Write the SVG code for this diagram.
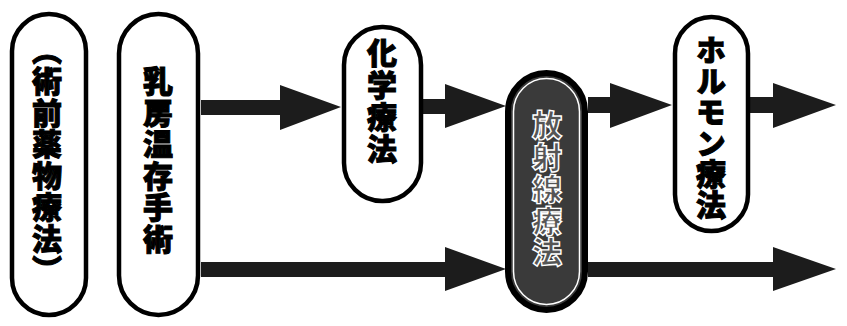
<svg xmlns="http://www.w3.org/2000/svg" width="847" height="326" viewBox="0 0 847 326">
<style>
.box{fill:#fff;stroke:#000;stroke-width:4.5}
.dark{fill:#3a3a3a;stroke:#000;stroke-width:6}
.inner{fill:none;stroke:#fff;stroke-width:1.5}
.t{font-family:"Noto Sans CJK JP","Noto Sans CJK SC",sans-serif;font-weight:900;font-size:30px;writing-mode:vertical-rl;text-anchor:start;fill:#000;stroke:#000;stroke-width:1}
.tw{fill:#555;stroke:#fff;stroke-width:1.4}
.arr{fill:#1c1c1c}
</style>
<rect width="847" height="326" fill="#fff"/>
<g id="connectors">
<polygon class="arr" points="201,100 280,100 280,85 341,107 280,130 280,115 201,115"/>
<polygon class="arr" points="423,99 445,99 445,84 506,106 445,128 445,114 423,114"/>
<polygon class="arr" points="201,262 445,262 445,247 506,269 445,291 445,277 201,277"/>
<polygon class="arr" points="588,97 610,97 610,83 672,105 610,128 610,113 588,113"/>
<polygon class="arr" points="750,97 773,97 773,83 836,105 773,128 773,113 750,113"/>
<polygon class="arr" points="588,262 773,262 773,247 836,269 773,291 773,277 588,277"/>
</g>
<g id="n1">
<rect class="box" x="12" y="14" width="74" height="301" rx="37"/>
<text class="t" x="47" y="34.5" letter-spacing="1.5">（術前薬物療法）</text>
</g>
<g id="n2">
<rect class="box" x="119" y="14" width="79" height="301" rx="39.5"/>
<text class="t" x="158" y="66" letter-spacing="1.5">乳房温存手術</text>
</g>
<g id="n3">
<rect class="box" x="344" y="27" width="77" height="174" rx="38"/>
<text class="t" x="382" y="38" letter-spacing="2">化学療法</text>
</g>
<g id="n4">
<rect class="dark" x="508" y="73" width="77" height="237" rx="38.5"/>
<rect class="inner" x="513.5" y="78.5" width="66" height="226" rx="33"/>
<text class="t tw" x="547" y="110" letter-spacing="1.75">放射線療法</text>
</g>
<g id="n5">
<rect class="box" x="675" y="17" width="73" height="214" rx="36.5"/>
<text class="t" x="711" y="35" letter-spacing="1">ホルモン療法</text>
</g>
</svg>
